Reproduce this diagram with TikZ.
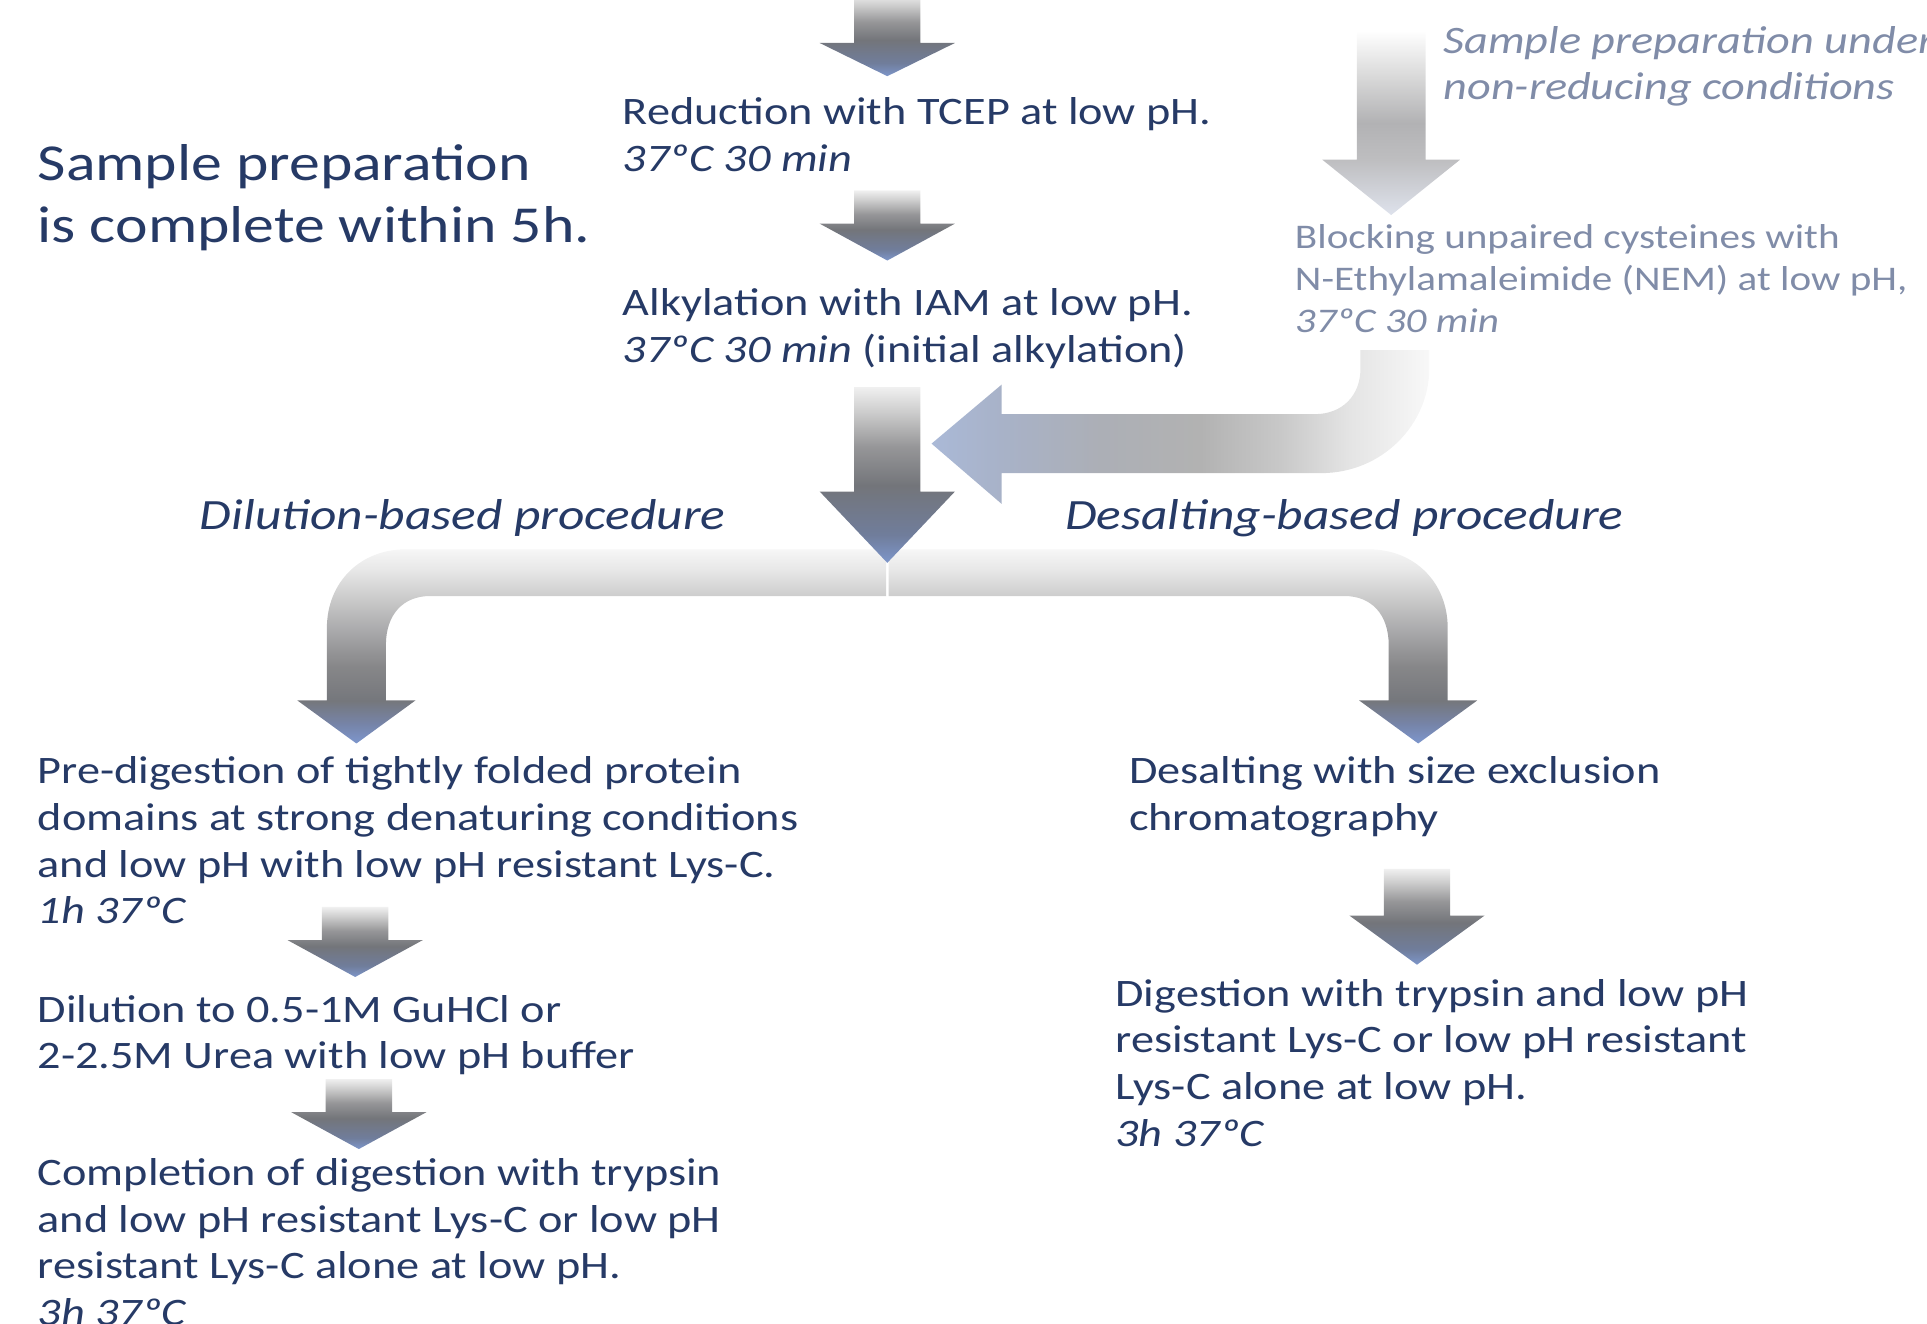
\documentclass[tikz,border=0pt]{standalone}
\usepackage{fontspec}
\setmainfont{Carlito}[FakeStretch=1.19]

\definecolor{navy}{RGB}{38,58,102}
\definecolor{greyblue}{RGB}{128,140,168}

\pgfdeclareverticalshading{stepshade}{100bp}{color(0bp)=(rgb,255:red,125;green,150;blue,202); color(25bp)=(rgb,255:red,125;green,150;blue,202); color(33bp)=(rgb,255:red,112;green,125;blue,155); color(47bp)=(rgb,255:red,115;green,117;blue,122); color(58bp)=(rgb,255:red,150;green,150;blue,152); color(68bp)=(rgb,255:red,205;green,205;blue,205); color(75bp)=(rgb,255:red,240;green,240;blue,240); color(100bp)=(rgb,255:red,240;green,240;blue,240)}
\pgfdeclareverticalshading{branchshade}{100bp}{color(0bp)=(rgb,255:red,125;green,150;blue,205); color(25bp)=(rgb,255:red,125;green,150;blue,205); color(30bp)=(rgb,255:red,118;green,132;blue,168); color(36bp)=(rgb,255:red,117;green,119;blue,124); color(45bp)=(rgb,255:red,135;green,135;blue,137); color(53bp)=(rgb,255:red,165;green,165;blue,167); color(63bp)=(rgb,255:red,205;green,205;blue,205); color(70bp)=(rgb,255:red,232;green,232;blue,232); color(75bp)=(rgb,255:red,246;green,246;blue,246); color(100bp)=(rgb,255:red,246;green,246;blue,246)}
\pgfdeclareverticalshading{paleshade}{100bp}{color(0bp)=(rgb,255:red,222;green,226;blue,236); color(25bp)=(rgb,255:red,222;green,226;blue,236); color(40bp)=(rgb,255:red,190;green,190;blue,192); color(50bp)=(rgb,255:red,178;green,178;blue,180); color(62bp)=(rgb,255:red,215;green,215;blue,215); color(75bp)=(rgb,255:red,255;green,255;blue,255); color(100bp)=(rgb,255:red,255;green,255;blue,255)}
\pgfdeclarehorizontalshading{bentshade}{100bp}{color(0bp)=(rgb,255:red,170;green,185;blue,215); color(25bp)=(rgb,255:red,170;green,185;blue,215); color(32bp)=(rgb,255:red,168;green,178;blue,200); color(42bp)=(rgb,255:red,172;green,175;blue,182); color(52bp)=(rgb,255:red,178;green,178;blue,178); color(60bp)=(rgb,255:red,200;green,200;blue,200); color(67bp)=(rgb,255:red,228;green,228;blue,228); color(75bp)=(rgb,255:red,248;green,248;blue,248); color(100bp)=(rgb,255:red,248;green,248;blue,248)}

% block arrow pointing down: centre x, top y, head y, tip y
\newcommand{\stepArrow}[4]{%
	\shade[shading=stepshade] (#1-27,#2) -- (#1+27,#2) -- (#1+27,#3) -- (#1+55,#3) -- (#1,#4) -- (#1-55,#3) -- (#1-27,#3) -- cycle;}

\begin{document}
\begin{tikzpicture}[x=0.01cm,y=-0.01cm,
	steptext/.style={anchor=north west,inner sep=0pt,align=left,text=navy,font=\fontsize{9}{10.8}\selectfont},
	sidetext/.style={steptext,text=greyblue},
	routetext/.style={steptext,font=\fontsize{10}{12}\selectfont\itshape}]
	\useasboundingbox (0,0) rectangle (1568,1077);
	
	%bent arrow from the blocking step
	\shade[shading=bentshade] (1107,285) -- (1107,300) .. controls (1107,322) and (1092,337) .. (1070,337) -- (815,337) -- (815,313) -- (758,361) -- (815,410) -- (815,385) -- (1075,385) .. controls (1125,385) and (1163,345) .. (1163,300) -- (1163,285) -- cycle;
	
	%arrow of the non-reducing route
	\shade[shading=paleshade] (1104,25) -- (1160,25) -- (1160,130) -- (1188,130) -- (1132,175) -- (1076,130) -- (1104,130) -- cycle;
	
	%branching arrow, left and right half
	\shade[shading=branchshade] (721,447) -- (330,447) .. controls (293,447) and (266,474) .. (266,511) -- (266,570) -- (242,570) -- (290,605) -- (338,570) -- (314,570) -- (314,525) .. controls (314,500) and (328,485) .. (350,485) -- (721,485) -- cycle;
	\shade[shading=branchshade] (723,447) -- (1114,447) .. controls (1151,447) and (1178,474) .. (1178,511) -- (1178,570) -- (1202,570) -- (1154,605) -- (1106,570) -- (1130,570) -- (1130,525) .. controls (1130,500) and (1116,485) .. (1094,485) -- (723,485) -- cycle;
	
	%step arrows
	\stepArrow{722}{-5}{35}{62}
	\stepArrow{722}{155}{182}{212}
	\stepArrow{722}{315}{400}{458}
	\stepArrow{289}{738}{765}{795}
	\stepArrow{292}{878}{905}{935}
	\stepArrow{1153}{707}{745}{785}
	
	%texts on top
	\node[steptext,font=\fontsize{12}{14.2}\selectfont] (total) at (30,117) {Sample preparation\\is complete within 5h.};
	\node[steptext] (reduce) at (506,79) {Reduction with TCEP at low pH.\\\textit{37ºC 30 min}};
	\node[steptext] (alkyl) at (506,234) {Alkylation with IAM at low pH.\\\textit{37ºC 30 min} (initial alkylation)};
	\node[sidetext,font=\fontsize{9}{10.5}\selectfont\itshape] (nonred) at (1174,21) {Sample preparation under\\non-reducing conditions};
	\node[sidetext,font=\fontsize{8}{9.7}\selectfont] (block) at (1053,182) {Blocking unpaired cysteines with\\N-Ethylamaleimide (NEM) at low pH,\\\textit{37ºC 30 min}};
	
	%routes
	\node[routetext] (dilroute) at (162,406) {Dilution-based procedure};
	\node[routetext] (desroute) at (866,406) {Desalting-based procedure};
	
	%dilution route
	\node[steptext] (predig) at (30,615) {Pre-digestion of tightly folded protein\\domains at strong denaturing conditions\\and low pH with low pH resistant Lys-C.\\\textit{1h 37ºC}};
	\node[steptext] (dilute) at (30,809) {Dilution to 0.5-1M GuHCl or\\2-2.5M Urea with low pH buffer};
	\node[steptext] (finish) at (30,942) {Completion of digestion with trypsin\\and low pH resistant Lys-C or low pH\\resistant Lys-C alone at low pH.\\\textit{3h 37ºC}};
	
	%desalting route
	\node[steptext] (desalt) at (918,615) {Desalting with size exclusion\\chromatography};
	\node[steptext] (digest) at (907,796) {Digestion with trypsin and low pH\\resistant Lys-C or low pH resistant\\Lys-C alone at low pH.\\\textit{3h 37ºC}};
\end{tikzpicture}
\end{document}
